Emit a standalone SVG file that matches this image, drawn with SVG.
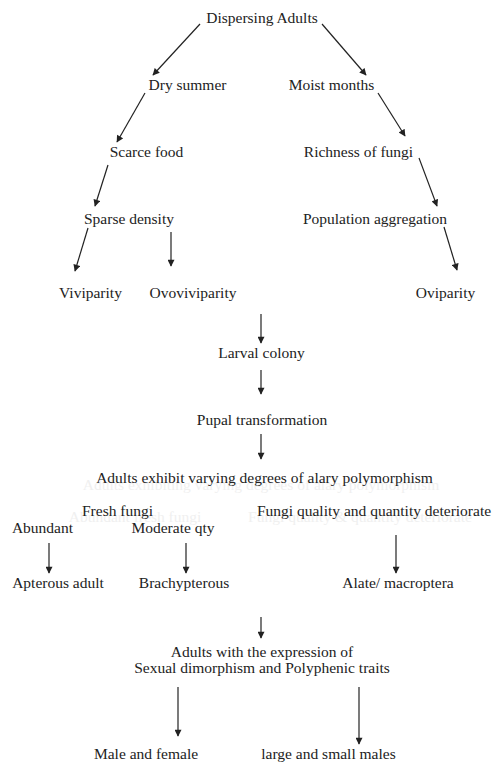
<svg xmlns="http://www.w3.org/2000/svg" width="495" height="763" viewBox="0 0 495 763">
<style>
text{font-family:'Liberation Serif','Times New Roman','DejaVu Serif',serif;font-size:15.5px;fill:#222;text-anchor:middle}
text.ghost{fill:#f0f0f0}
.c line{stroke:#222;stroke-width:1.2;marker-end:url(#ah)}
</style>
<defs>
<marker id="ah" viewBox="0 0 10 10" refX="9" refY="5" markerWidth="8" markerHeight="7" markerUnits="userSpaceOnUse" orient="auto">
<path d="M0,0 L10,5 L0,10 z" fill="#222"/>
</marker>
</defs>
<rect width="495" height="763" fill="#fff"/>
<g id="ghosts" font-family="Liberation Serif, serif">
<text class="ghost" x="261" y="490">Adults exhibiting varying degrees of alary polymorphism</text>
<text class="ghost" x="135" y="522">Abundant fresh fungi</text>
<text class="ghost" x="360" y="522">Fungi quality &amp; quantity deteriorate</text>
</g>
<g class="c" id="connectors">
<line x1="200" y1="24" x2="153" y2="75"/>
<line x1="322" y1="24" x2="366" y2="75"/>
<line x1="145" y1="93" x2="117" y2="142"/>
<line x1="378" y1="93" x2="405" y2="136"/>
<line x1="108" y1="165" x2="95" y2="206"/>
<line x1="419" y1="158" x2="437" y2="206"/>
<line x1="88" y1="228" x2="75" y2="271"/>
<line x1="171" y1="232" x2="171" y2="266"/>
<line x1="444" y1="227" x2="457" y2="270"/>
<line x1="261" y1="314" x2="261" y2="343"/>
<line x1="261" y1="370" x2="261" y2="394"/>
<line x1="261" y1="434" x2="261" y2="459"/>
<line x1="49" y1="543" x2="49" y2="573"/>
<line x1="186" y1="543" x2="186" y2="573"/>
<line x1="396" y1="535" x2="396" y2="573"/>
<line x1="261" y1="617" x2="261" y2="638"/>
<line x1="178" y1="687" x2="178" y2="736"/>
<line x1="359" y1="687" x2="359" y2="744"/>
</g>
<g font-family="Liberation Serif, serif">
<g id="n-dispersing"><text x="262" y="23">Dispersing Adults</text></g>
<g id="n-dry"><text x="187.5" y="90">Dry summer</text></g>
<g id="n-moist"><text x="331.5" y="90">Moist months</text></g>
<g id="n-scarce"><text x="146.5" y="157">Scarce food</text></g>
<g id="n-richness"><text x="358.5" y="157">Richness of fungi</text></g>
<g id="n-sparse"><text x="129" y="224">Sparse density</text></g>
<g id="n-population"><text x="375" y="224">Population aggregation</text></g>
<g id="n-viviparity"><text x="90.5" y="298">Viviparity</text></g>
<g id="n-ovoviviparity"><text x="193" y="298">Ovoviviparity</text></g>
<g id="n-oviparity"><text x="445.5" y="298">Oviparity</text></g>
<g id="n-larval"><text x="261.5" y="358">Larval colony</text></g>
<g id="n-pupal"><text x="262" y="425">Pupal transformation</text></g>
<g id="n-alary"><text x="264.5" y="483">Adults exhibit varying degrees of alary polymorphism</text></g>
<g id="n-fresh"><text x="117.5" y="516">Fresh fungi</text></g>
<g id="n-deteriorate"><text x="374" y="516">Fungi quality and quantity deteriorate</text></g>
<g id="n-abundant"><text x="42.5" y="533">Abundant</text></g>
<g id="n-moderate"><text x="173" y="533">Moderate qty</text></g>
<g id="n-apterous"><text x="58" y="588">Apterous adult</text></g>
<g id="n-brachypterous"><text x="184" y="588">Brachypterous</text></g>
<g id="n-alate"><text x="398" y="588">Alate/ macroptera</text></g>
<g id="n-expression"><text x="262" y="657">Adults with the expression of</text><text x="262" y="673">Sexual dimorphism and Polyphenic traits</text></g>
<g id="n-malefemale"><text x="146" y="759">Male and female</text></g>
<g id="n-males"><text x="328.5" y="759">large and small males</text></g>
</g>
</svg>
